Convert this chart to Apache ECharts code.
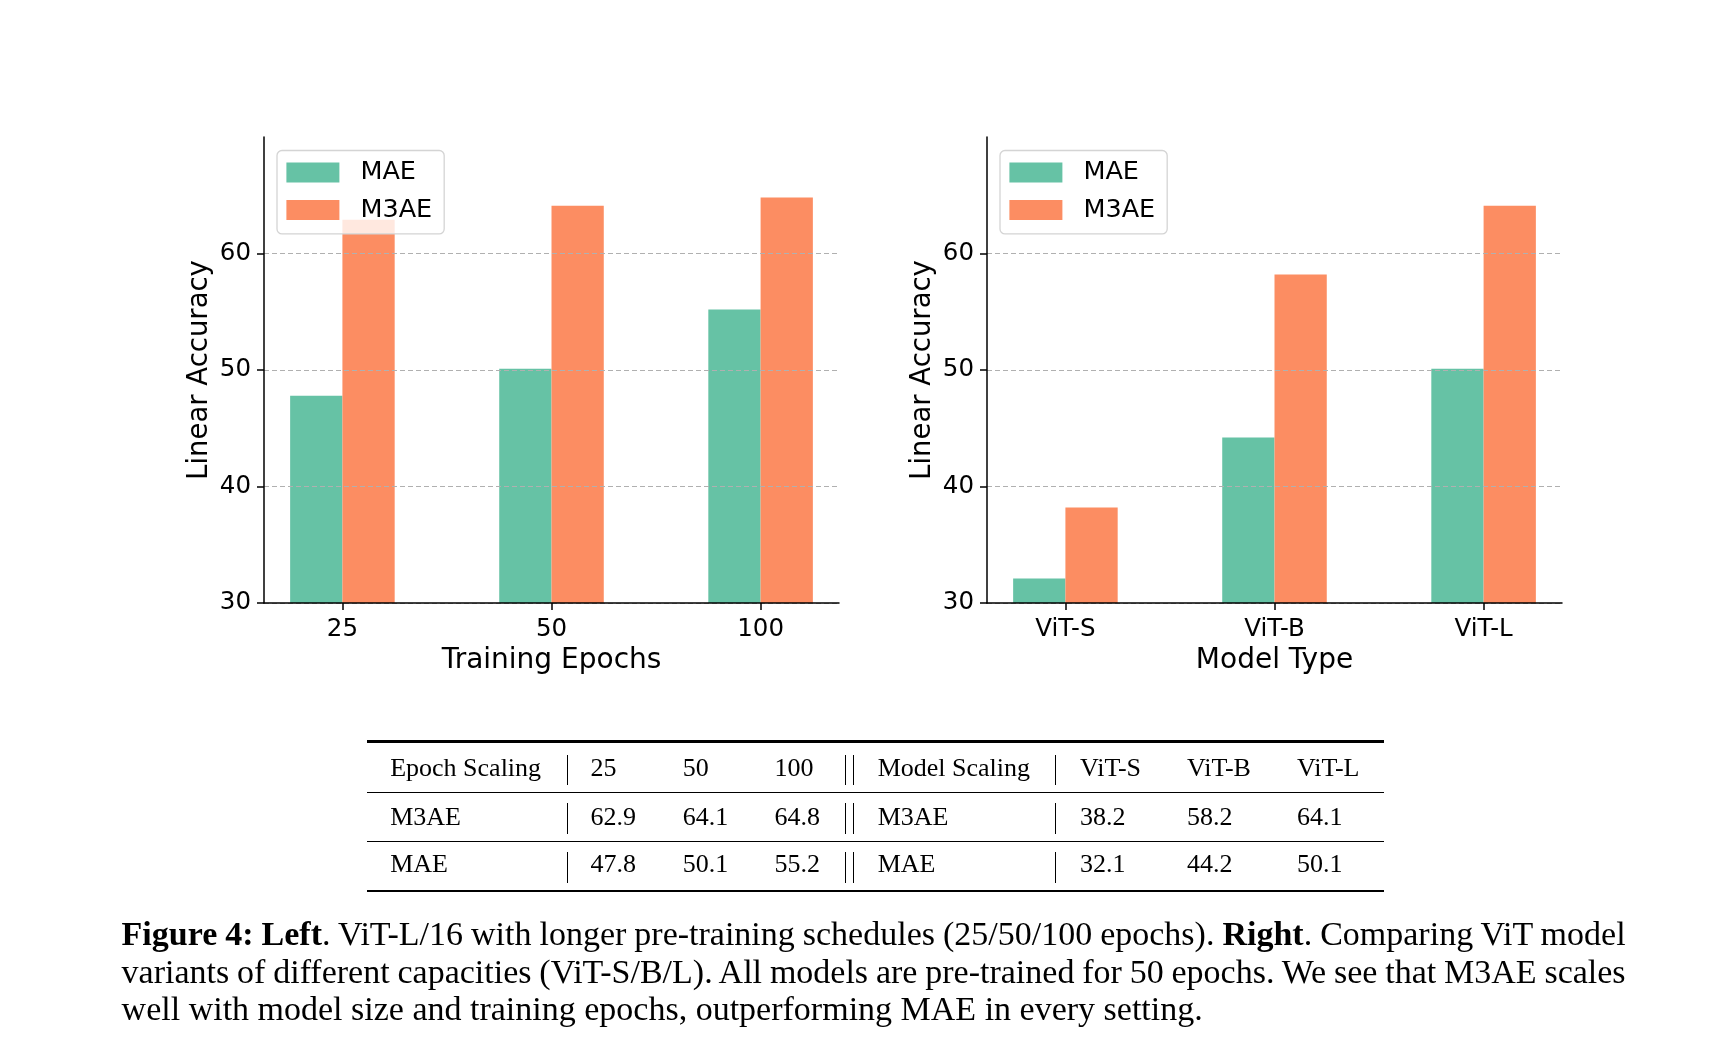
<!DOCTYPE html>
<html>
<head>
<meta charset="utf-8">
<script src="https://cdn.jsdelivr.net/npm/echarts@6/dist/echarts.min.js"></script>
<style>
html,body{margin:0;padding:0;background:#fff;width:1718px;height:1063px;overflow:hidden;}
#chart{position:absolute;left:0;top:0;width:1718px;height:1063px;}
.t{position:absolute;font-family:"Liberation Serif","Times New Roman",serif;font-size:26px;line-height:26px;color:#000;white-space:nowrap;}
.rule{position:absolute;background:#000;}
.vbar{position:absolute;width:1.3px;background:#000;}
.cap{position:absolute;left:121.6px;font-family:"Liberation Serif","Times New Roman",serif;font-size:34px;line-height:34px;color:#000;white-space:nowrap;}
</style>
</head>
<body>
<div id="chart"></div>
<div id="table"></div>
<div id="caption"></div>
<script>
// ---- data ----
const epochCategories = ['25', '50', '100'];
const epochMAE = [47.8, 50.1, 55.2];
const epochM3AE = [62.9, 64.1, 64.8];
const modelCategories = ['ViT-S', 'ViT-B', 'ViT-L'];
const modelMAE = [32.1, 44.2, 50.1];
const modelM3AE = [38.2, 58.2, 64.1];
const yTicks = [30, 40, 50, 60];
const seriesNames = ['MAE', 'M3AE'];
const colors = ['#66c2a5', '#fc8d62'];

const FONT = 'DejaVu Sans';

function xAxisFor(cats, gridIndex, name) {
  const idx = cats.map((_, i) => i);
  return {
    type: 'value', gridIndex: gridIndex,
    min: -0.375, max: cats.length - 1 + 0.375,
    name: name, nameLocation: 'middle', nameGap: 44,
    nameTextStyle: {fontFamily: FONT, fontSize: 28, color: '#000'},
    axisLine: {show: true, onZero: false, lineStyle: {color: '#000', width: 1.5}},
    axisTick: {show: true, length: 7, customValues: idx, lineStyle: {color: '#000', width: 1.5}},
    axisLabel: {customValues: idx, formatter: v => cats[Math.round(v)], fontFamily: FONT, fontSize: 24.5, color: '#000', margin: 14},
    splitLine: {show: false},
    z: 3
  };
}
function yAxisFor(gridIndex) {
  return {
    type: 'value', gridIndex: gridIndex, min: 30, max: 70, interval: 10,
    name: 'Linear Accuracy', nameLocation: 'middle', nameGap: 50, nameRotate: 90,
    nameTextStyle: {fontFamily: FONT, fontSize: 27.5, color: '#000'},
    axisLine: {show: true, onZero: false, lineStyle: {color: '#000', width: 1.5}},
    axisTick: {show: true, length: 7, customValues: yTicks, lineStyle: {color: '#000', width: 1.5}},
    axisLabel: {customValues: yTicks, fontFamily: FONT, fontSize: 24.5, color: '#000', margin: 13, padding: [5, 0, 0, 0]},
    splitLine: {show: true, lineStyle: {color: '#b0b0b0', type: [5, 3], width: 1.1}},
    z: 3
  };
}
function legendAt(left) {
  return {
    left: left, top: 150.5, orient: 'vertical', data: seriesNames, icon: 'rect',
    itemWidth: 53, itemHeight: 20, itemGap: 11.4,
    padding: [9, 12, 11, 9.4],
    backgroundColor: 'rgba(255,255,255,0.8)', borderColor: '#d4d4d4', borderWidth: 1.3, borderRadius: 5,
    textStyle: {fontFamily: FONT, fontSize: 25.5, lineHeight: 24, color: '#000', padding: [0, 0, 0, 16]},
    selectedMode: false, z: 10
  };
}
function barSeries(name, values, axisIndex, color) {
  return {
    type: 'bar', name: name, xAxisIndex: axisIndex, yAxisIndex: axisIndex,
    data: values.map((v, i) => [i, v]),
    barWidth: '25%', barGap: '0%',
    itemStyle: {color: color}, emphasis: {disabled: true}, z: 2
  };
}

const chart = echarts.init(document.getElementById('chart'), null, {renderer: 'canvas'});
chart.setOption({
  animation: false,
  backgroundColor: '#fff',
  grid: [
    {left: 264, top: 137, width: 575, height: 466},
    {left: 987, top: 137, width: 575, height: 466}
  ],
  legend: [legendAt(277), legendAt(1000)],
  xAxis: [xAxisFor(epochCategories, 0, 'Training Epochs'), xAxisFor(modelCategories, 1, 'Model Type')],
  yAxis: [yAxisFor(0), yAxisFor(1)],
  series: [
    barSeries(seriesNames[0], epochMAE, 0, colors[0]),
    barSeries(seriesNames[1], epochM3AE, 0, colors[1]),
    barSeries(seriesNames[0], modelMAE, 1, colors[0]),
    barSeries(seriesNames[1], modelM3AE, 1, colors[1])
  ]
});

// ---- table ----
const tbl = document.getElementById('table');
function addText(txt, x, baseline) {
  const d = document.createElement('div');
  d.className = 't';
  d.textContent = txt;
  d.style.left = x + 'px';
  d.style.top = (baseline - 21.8) + 'px';
  tbl.appendChild(d);
}
function addRule(y, h) {
  const d = document.createElement('div');
  d.className = 'rule';
  d.style.left = '367px'; d.style.width = '1017px';
  d.style.top = (y - h / 2) + 'px'; d.style.height = h + 'px';
  tbl.appendChild(d);
}
function addVbar(x, y0, y1) {
  const d = document.createElement('div');
  d.className = 'vbar';
  d.style.left = x + 'px'; d.style.top = y0 + 'px'; d.style.height = (y1 - y0) + 'px';
  tbl.appendChild(d);
}
const colX = [390.2, 590.5, 682.8, 774.5, 877.7, 1080, 1187, 1297];
const rowBase = [776.7, 825.7, 873];
const rowSpan = [[755, 785], [803, 834], [852, 883]];
const fmt = v => v.toFixed(1);
const rows = [
  ['Epoch Scaling'].concat(epochCategories, ['Model Scaling'], modelCategories),
  [seriesNames[1]].concat(epochM3AE.map(fmt), [seriesNames[1]], modelM3AE.map(fmt)),
  [seriesNames[0]].concat(epochMAE.map(fmt), [seriesNames[0]], modelMAE.map(fmt))
];
rows.forEach((r, ri) => {
  r.forEach((c, ci) => addText(c, colX[ci], rowBase[ri]));
  addVbar(567.2, rowSpan[ri][0], rowSpan[ri][1]);
  addVbar(845.2, rowSpan[ri][0], rowSpan[ri][1]);
  addVbar(852.6, rowSpan[ri][0], rowSpan[ri][1]);
  addVbar(1054.8, rowSpan[ri][0], rowSpan[ri][1]);
});
addRule(741.7, 2.7);
addRule(792.3, 1.4);
addRule(841.7, 1.4);
addRule(891, 2.7);

// ---- caption ----
const cap = document.getElementById('caption');
const capLines = [
  '<b>Figure 4: Left</b>. ViT-L/16 with longer pre-training schedules (25/50/100 epochs). <b>Right</b>. Comparing ViT model',
  'variants of different capacities (ViT-S/B/L). All models are pre-trained for 50 epochs. We see that M3AE scales',
  'well with model size and training epochs, outperforming MAE in every setting.'
];
const capBase = [945.7, 983.3, 1020.5];
capLines.forEach((html, i) => {
  const d = document.createElement('div');
  d.className = 'cap';
  d.innerHTML = html;
  d.style.top = (capBase[i] - 28.5) + 'px';
  cap.appendChild(d);
  if (i < capLines.length - 1) {
    const w = d.getBoundingClientRect().width;
    const spaces = (d.textContent.match(/ /g) || []).length;
    d.style.wordSpacing = ((1504 - w) / spaces) + 'px';
  }
});
</script>
</body>
</html>
